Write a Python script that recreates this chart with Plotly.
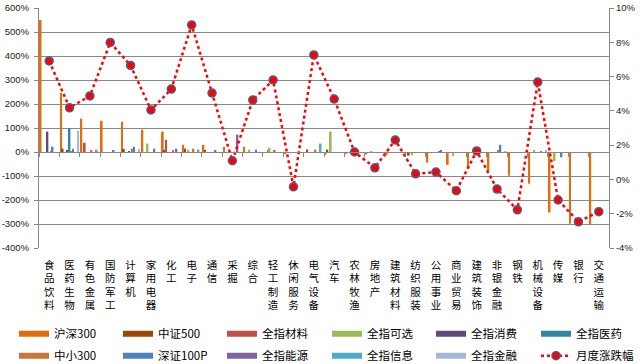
import plotly.graph_objects as go

categories = ["食品饮料", "医药生物", "有色金属", "国防军工", "计算机", "家用电器", "化工", "电子",
              "通信", "采掘", "综合", "轻工制造", "休闲服务", "电气设备", "汽车", "农林牧渔",
              "房地产", "建筑材料", "纺织服装", "公用事业", "商业贸易", "建筑装饰", "非银金融",
              "钢铁", "机械设备", "传媒", "银行", "交通运输"]

series_names = ["沪深300", "中证500", "全指材料", "全指可选", "全指消费", "全指医药",
                "中小300", "深证100P", "全指能源", "全指信息", "全指金融"]

hs300 =  [550, 247, 139, 130, 126, 93, 85, 30, 30, 22, 22, 0, -5, 0, -11, -5, -10, -14, -3, -44, -53, -67, -78, -99, -132, -252, -299, -304]
zz500 =  [0, 14, 0, 0, 13, 0, 6, 15, 6, -3, 0, 0, 0, 10, 10, 0, 0, 0, -15, 0, 0, 0, 0, 0, 0, -3, 0, -3]
qz_cl =  [0, 0, 39, 0, 0, 0, 51, 0, 0, 0, 0, 8, 0, 0, 0, 0, 0, -3, 0, 0, 0, 0, 0, -3, 0, 0, 0, 0]
qz_kx =  [0, 0, 0, 0, 0, 35, 0, 10, 0, 0, 10, 18, -4, 0, 85, 0, 3, 0, -14, 0, -18, 0, 0, 0, 5, -38, 0, 0]
qz_xf =  [85, 5, 0, 0, 3, 0, 0, 0, 0, 0, -4, 0, 0, 0, 0, 0, 0, 0, 0, 0, 0, 0, 0, 0, 0, 0, 0, 0]
qz_yy =  [0, 100, 0, 0, 0, 0, 0, 0, 0, 0, 0, 0, 0, 0, 0, 0, 0, 0, 0, 0, 0, 0, 0, 0, 0, 0, 0, 0]
zx300 =  [3, 3, 5, 0, 14, 0, 5, 14, 0, 0, 0, 5, 0, 10, 0, 0, 0, 0, 0, 0, 0, 0, 5, 0, 0, 0, -3, 0]
sz100 =  [22, 14, -4, 5, 22, 14, 0, 0, 5, 0, 10, 0, 0, 0, 0, 0, -3, 0, 0, 3, -3, 0, 30, -3, 2, -22, 0, 0]
qz_ny =  [0, 0, 0, 0, 0, 0, 14, 0, 0, 72, -3, 0, 0, 0, 0, 0, 0, 0, 0, 5, 0, 0, 0, 0, 0, 0, 0, 0]
qz_xx =  [0, 0, 10, -4, 0, 0, 0, 10, 0, 0, 0, 0, 0, 35, 0, 0, 0, 0, 0, 0, 0, 0, 0, 0, 0, 0, 0, 0]
qz_jr =  [0, 89, 0, 0, 13, 0, -4, 0, 0, 0, 0, 0, 0, 0, 0, 0, 0, 0, 0, 0, 0, 0, 3, 0, 5, 0, 0, 0]

monthly = [6.91, 4.18, 4.87, 7.99, 6.65, 4.05, 5.27, 9.01, 5.04, 1.09, 4.63, 5.80, -0.43, 7.26,
           4.69, 1.60, 0.68, 2.30, 0.33, 0.43, -0.66, 1.66, -0.56, -1.77, 5.68, -1.20, -2.47, -1.88]

left_ticks = [600, 500, 400, 300, 200, 100, 0, -100, -200, -300, -400]
right_ticks = [10, 8, 6, 4, 2, 0, -2, -4]

series_values = [hs300, zz500, qz_cl, qz_kx, qz_xf, qz_yy, zx300, sz100, qz_ny, qz_xx, qz_jr]
colors = ["#E46C0A", "#984807", "#C0504D", "#9BBB59", "#604A7B", "#31859C",
          "#C8783C", "#4F81BD", "#8064A2", "#4BACC6", "#A6B8D8"]

tick_text = ["<br>".join(list(c)) for c in categories]

legend_ids = ["legend"] + [f"legend{k}" for k in range(2, 13)]
legend_cols_px = [14, 118, 222, 327, 431, 536]
legend_rows = [0.123, 0.123 - 22 / 364]

fig = go.Figure()
for name, vals, col in zip(series_names, series_values, colors):
    fig.add_trace(go.Bar(x=categories, y=vals, name=name, marker_color=col,
                         marker_line_width=0, showlegend=False))
for i, (name, col) in enumerate(zip(series_names, colors)):
    fig.add_trace(go.Scatter(x=[None], y=[None], mode="lines", name=name,
                             legend=legend_ids[i],
                             line=dict(color=col, width=6)))
fig.add_trace(go.Scatter(x=categories, y=monthly, name="月度涨跌幅", mode="lines+markers",
                         xaxis="x2", yaxis="y2", legend=legend_ids[11],
                         line=dict(color="#FF0000", width=2.5, dash="dot"),
                         marker=dict(color="#FF0000", size=8,
                                     line=dict(color="#4A5F8C", width=1.5))))

cjk = "Noto Sans CJK SC"
axis_font = dict(family="Liberation Sans", size=9.5, color="#222222")

legend_layouts = {}
for i, lid in enumerate(legend_ids):
    legend_layouts[lid] = dict(orientation="v", xref="container", yref="container",
                               x=legend_cols_px[i % 6] / 640, xanchor="left",
                               y=legend_rows[i // 6], yanchor="top",
                               font=dict(family=cjk, size=11.5, color="#000000"),
                               itemwidth=30, tracegroupgap=0, bgcolor="rgba(0,0,0,0)")

fig.update_layout(
    width=640, height=364,
    margin=dict(l=39, r=31, t=8, b=116, autoexpand=False),
    paper_bgcolor="white", plot_bgcolor="white",
    barmode="group", bargap=0.08, bargroupgap=0,
    xaxis=dict(type="category", categoryorder="array", categoryarray=categories,
               range=[-0.5, len(categories) - 0.5], automargin=False,
               tickmode="array", tickvals=categories, ticktext=tick_text,
               tickfont=dict(family=cjk, size=10.5, color="#000000"),
               showline=False, showgrid=False, ticks="", ticklabelstandoff=9),
    xaxis2=dict(type="category", categoryorder="array", categoryarray=categories,
                range=[-0.5, len(categories) - 0.5], automargin=False,
                overlaying="x", anchor="free", position=0.4,
                showline=True, linecolor="#888888", linewidth=1,
                ticks="outside", ticklen=4, tickcolor="#888888", tickson="boundaries",
                showticklabels=False, showgrid=False),
    yaxis=dict(range=[-400, 600], tickmode="array", tickvals=left_ticks,
               ticktext=[f"{v}%" for v in left_ticks], automargin=False,
               tickfont=axis_font, showgrid=True, gridcolor="#888888", gridwidth=1,
               zeroline=False, showline=True, linecolor="#888888", linewidth=1,
               ticks="outside", ticklen=4, tickcolor="#888888", ticklabelstandoff=3),
    yaxis2=dict(range=[-4, 10], tickmode="array", tickvals=right_ticks,
                ticktext=[f"{v}%" for v in right_ticks], automargin=False,
                overlaying="y", side="right", anchor="x2",
                tickfont=axis_font, showgrid=False, zeroline=False,
                showline=True, linecolor="#888888", linewidth=1,
                ticks="outside", ticklen=4, tickcolor="#888888"),
    showlegend=True,
    **legend_layouts,
)

fig.write_html("out.html", config={"displayModeBar": False},
               post_script="document.body.style.margin='0';")
